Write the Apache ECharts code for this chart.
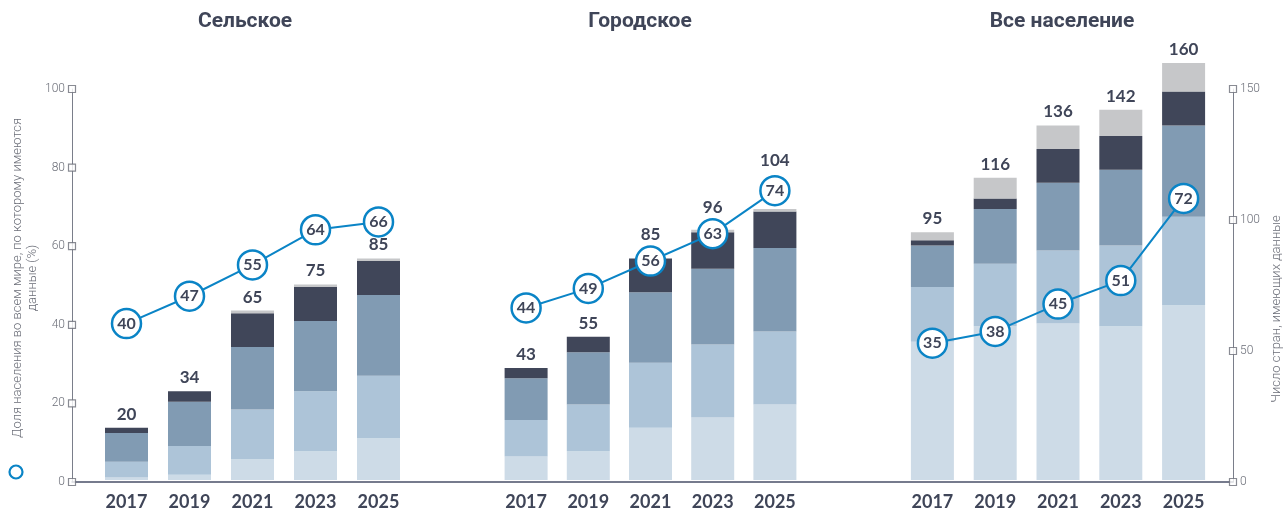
<!DOCTYPE html>
<html>
<head>
<meta charset="utf-8">
<script src="https://cdn.jsdelivr.net/npm/echarts@6/dist/echarts.min.js"></script>
<style>
html,body{margin:0;padding:0;background:#fff;}
#chart{width:1287px;height:511px;}
</style>
</head>
<body>
<div id="chart"></div>
<script>
// ---------- DATA ----------
const years = ['2017', '2019', '2021', '2023', '2025'];
const groupTitles = ['Сельское', 'Городское', 'Все население'];

// number of countries with data, split into 5 stacked segments (bottom -> top)
const ruralSeg1 = [1, 2, 8, 11, 16];
const ruralSeg2 = [6, 11, 19, 23, 24];
const ruralSeg3 = [11, 17, 24, 27, 31];
const ruralSeg4 = [2, 4, 13, 13, 13];
const ruralSeg5 = [0, 0, 1, 1, 1];
const ruralTotals = [20, 34, 65, 75, 85];

const urbanSeg1 = [9, 11, 20, 24, 29];
const urbanSeg2 = [14, 18, 25, 28, 28];
const urbanSeg3 = [16, 20, 27, 29, 32];
const urbanSeg4 = [4, 6, 13, 14, 14];
const urbanSeg5 = [0, 0, 0, 1, 1];
const urbanTotals = [43, 55, 85, 96, 104];

const totalSeg1 = [53, 59, 60, 59, 67];
const totalSeg2 = [21, 24, 28, 31, 34];
const totalSeg3 = [16, 21, 26, 29, 35];
const totalSeg4 = [2, 4, 13, 13, 13];
const totalSeg5 = [3, 8, 9, 10, 11];
const totalTotals = [95, 116, 136, 142, 160];

// share of world population covered (%)
const ruralShare = [40, 47, 55, 64, 66];
const urbanShare = [44, 49, 56, 63, 74];
const totalShare = [35, 38, 45, 51, 72];

const leftTicks = [0, 20, 40, 60, 80, 100];
const rightTicks = [0, 50, 100, 150];

const leftAxisTitle = 'Доля населения во всем мире, по которому имеются\nданные (%)';
const rightAxisTitle = 'Число стран, имеющих данные';

// ---------- STYLE ----------
const segColors = ['#cddbe7', '#adc4d8', '#819bb3', '#404659', '#c6c7c9'];
const blue = '#0a84c6';
const dark = '#3f4558';
const grey = '#6b6e78';
const numFont = 'Lato, "Noto Sans", sans-serif';

// extra lift (px) of total labels so they clear the line markers
const ruralLift = [0, 0, 0, 0, 0];
const urbanLift = [0, 0, 10, 9, 35];
const totalLift = [0, 0, 0, 0, 0];

const groups = [
  { segs: [ruralSeg1, ruralSeg2, ruralSeg3, ruralSeg4, ruralSeg5], totals: ruralTotals, share: ruralShare, lift: ruralLift, left: 95, width: 315 },
  { segs: [urbanSeg1, urbanSeg2, urbanSeg3, urbanSeg4, urbanSeg5], totals: urbanTotals, share: urbanShare, lift: urbanLift, left: 495, width: 311 },
  { segs: [totalSeg1, totalSeg2, totalSeg3, totalSeg4, totalSeg5], totals: totalTotals, share: totalShare, lift: totalLift, left: 901, width: 314 }
];

const TOP = 89, BOTTOM = 29;

const grid = [{ left: 72, right: 54, top: TOP, bottom: BOTTOM }];
const xAxis = [{
  gridIndex: 0, type: 'value', min: 0, max: 1,
  axisLine: { show: true, lineStyle: { color: '#4a5068', width: 1.5 } },
  axisTick: { show: false }, axisLabel: { show: false }, splitLine: { show: false }
}];
const yAxis = [
  {
    gridIndex: 0, type: 'value', position: 'left', min: 0, max: 100, interval: 20,
    axisLine: { show: true, lineStyle: { color: '#7a7e8a', width: 1 } },
    axisTick: { show: false }, splitLine: { show: false },
    axisLabel: { color: grey, fontSize: 12, fontFamily: 'Roboto, sans-serif', fontWeight: 300, margin: 7 }
  },
  {
    gridIndex: 0, type: 'value', position: 'right', min: 0, max: 150, interval: 50,
    axisLine: { show: true, lineStyle: { color: '#7a7e8a', width: 1 } },
    axisTick: { show: false }, splitLine: { show: false },
    axisLabel: { color: grey, fontSize: 12, fontFamily: 'Roboto, sans-serif', fontWeight: 300, margin: 7 }
  }
];
const series = [];

groups.forEach((g, gi) => {
  const gridIdx = gi + 1;
  grid.push({ left: g.left, width: g.width, top: TOP, bottom: BOTTOM });
  xAxis.push({
    gridIndex: gridIdx, type: 'category', data: years,
    axisLine: { show: false }, axisTick: { show: false },
    axisLabel: { color: dark, fontSize: 18, fontWeight: 'bold', fontFamily: numFont, margin: 13 }
  });
  const barY = yAxis.length;
  yAxis.push({ gridIndex: gridIdx, type: 'value', min: 0, max: 150, show: false });
  const lineY = yAxis.length;
  yAxis.push({ gridIndex: gridIdx, type: 'value', min: 0, max: 100, show: false });

  g.segs.forEach((seg, si) => {
    const isTop = si === g.segs.length - 1;
    const s = {
      type: 'bar', xAxisIndex: gridIdx, yAxisIndex: barY, stack: 'g' + gi,
      data: isTop ? seg.map((v, i) => ({ value: v, label: { distance: 5 + g.lift[i] } })) : seg,
      barWidth: 43, itemStyle: { color: segColors[si] },
      silent: true, z: 2, clip: false
    };
    if (isTop) {
      s.label = {
        show: true, position: 'top', distance: 5,
        color: dark, fontSize: 17, fontWeight: 'bold', fontFamily: numFont,
        formatter: p => String(g.totals[p.dataIndex])
      };
    }
    series.push(s);
  });

  series.push({
    type: 'line', xAxisIndex: gridIdx, yAxisIndex: lineY, data: g.share,
    symbol: 'circle', symbolSize: 29, showAllSymbol: true,
    lineStyle: { color: blue, width: 2 },
    itemStyle: { color: '#fff', borderColor: blue, borderWidth: 2.5 },
    label: { show: true, position: 'inside', color: dark, fontSize: 16, fontWeight: 'bold', fontFamily: numFont },
    z: 5, silent: true
  });
});

// hollow square tick marks on the two value axes
series.push({
  type: 'scatter', xAxisIndex: 0, yAxisIndex: 0, data: leftTicks.map(v => [0, v]),
  symbol: 'rect', symbolSize: 7, clip: false, silent: true, z: 10,
  itemStyle: { color: '#fff', borderColor: grey, borderWidth: 1.2 }
});
series.push({
  type: 'scatter', xAxisIndex: 0, yAxisIndex: 1, data: rightTicks.map(v => [1, v]),
  symbol: 'rect', symbolSize: 7, clip: false, silent: true, z: 10,
  itemStyle: { color: '#fff', borderColor: grey, borderWidth: 1.2 }
});

const titleCenters = [245, 640, 1062];
const graphic = groupTitles.map((t, i) => ({
  type: 'text', x: titleCenters[i], y: 22,
  style: { text: t, textAlign: 'center', textVerticalAlign: 'middle', fill: dark,
    font: 'bold 21px Roboto, "Noto Sans", sans-serif' }
}));
graphic.push({
  type: 'text', x: 25, y: 278, rotation: Math.PI / 2,
  style: { text: leftAxisTitle, textAlign: 'center', textVerticalAlign: 'middle', fill: grey,
    font: '300 13px Roboto, "Noto Sans", sans-serif', lineHeight: 15 }
});
graphic.push({
  type: 'text', x: 1277, y: 309, rotation: Math.PI / 2,
  style: { text: rightAxisTitle, textAlign: 'center', textVerticalAlign: 'middle', fill: grey,
    font: '300 13px Roboto, "Noto Sans", sans-serif' }
});
graphic.push({
  type: 'circle', shape: { cx: 16, cy: 472, r: 6.5 },
  style: { fill: '#fff', stroke: blue, lineWidth: 2.2 }
});

const chart = echarts.init(document.getElementById('chart'), null, { renderer: 'canvas' });
chart.setOption({
  animation: false,
  backgroundColor: '#fff',
  grid, xAxis, yAxis, series, graphic
});
</script>
</body>
</html>
